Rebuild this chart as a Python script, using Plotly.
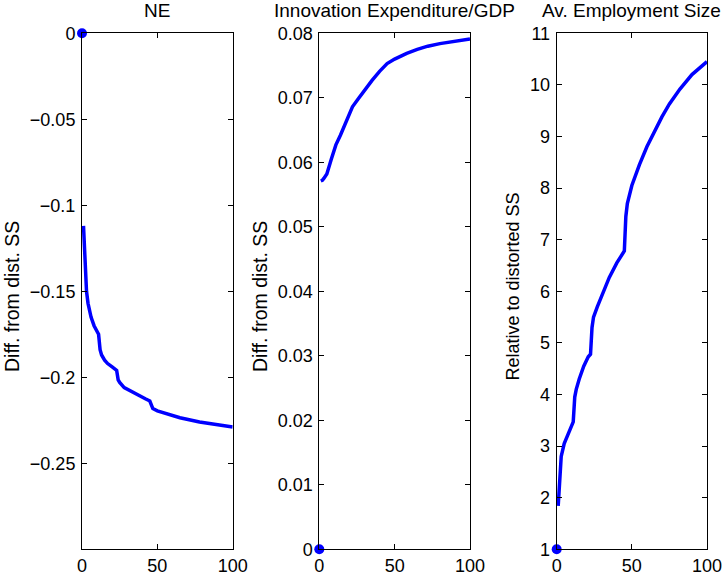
import plotly.graph_objects as go

# ---- data -------------------------------------------------------------
# NE: difference from distorted steady state
ne_t = [1, 2, 3, 4, 6, 8, 10, 11, 12, 13, 15, 17, 20, 23, 24, 25, 28, 33, 38,
        42, 45, 46, 47, 50, 56, 65, 78, 90, 100]
ne_v = [-0.112, -0.138, -0.150, -0.157, -0.165, -0.170, -0.1735, -0.175, -0.184,
        -0.187, -0.190, -0.192, -0.194, -0.196, -0.2015, -0.203, -0.206, -0.2085,
        -0.2107, -0.2125, -0.2138, -0.2165, -0.2182, -0.2195, -0.2213, -0.2235,
        -0.226, -0.2277, -0.2289]

# Innovation expenditure / GDP: difference from distorted steady state
ie_t = [1, 2, 3, 5, 8, 11, 14, 18, 22, 26, 30, 35, 40, 45, 50, 58, 65, 72, 80,
        90, 100]
ie_v = [0.0571, 0.0572, 0.0575, 0.0582, 0.0605, 0.0627, 0.0642, 0.0663, 0.0686,
        0.0699, 0.0712, 0.0727, 0.0741, 0.0753, 0.0760, 0.0769, 0.0775, 0.0780,
        0.0784, 0.0788, 0.0791]

# Average employment size relative to distorted steady state
es_t = [1, 2, 3, 5, 7, 9, 11, 12, 13, 15, 18, 21, 22.5, 23.5, 24.5, 27, 30, 35,
        40, 45, 46, 47, 50, 55, 60, 65, 70, 75, 82, 90, 100]
es_v = [1.84, 2.45, 2.80, 3.05, 3.20, 3.35, 3.47, 3.95, 4.10, 4.30, 4.55, 4.73,
        4.78, 5.30, 5.50, 5.70, 5.93, 6.27, 6.55, 6.78, 7.45, 7.70, 8.05, 8.45,
        8.80, 9.10, 9.38, 9.63, 9.92, 10.20, 10.45]

# initial (t = 0) values
start_t = [0, 0, 0]
start_v = [0, 0, 1]

titles = ["NE", "Innovation Expenditure/GDP", "Av. Employment Size"]
ylabels = ["Diff. from dist. SS", "Diff. from dist. SS", "Relative to distorted SS"]

x_ticks = [0, 50, 100]
ne_ticks = [-0.25, -0.2, -0.15, -0.1, -0.05, 0]
ne_ticktext = ["\u22120.25", "\u22120.2", "\u22120.15", "\u22120.1", "\u22120.05", "0"]
ie_ticks = [0, 0.01, 0.02, 0.03, 0.04, 0.05, 0.06, 0.07, 0.08]
ie_ticktext = ["0", "0.01", "0.02", "0.03", "0.04", "0.05", "0.06", "0.07", "0.08"]
es_ticks = list(range(1, 12))

# ---- figure -----------------------------------------------------------
W, H = 723, 576
BLUE = "#0000ff"
FONT = "Liberation Sans, Arial, Helvetica, sans-serif"

# panel boxes in pixels (left, right); shared top/bottom
px_x = [(82, 232.7), (319.3, 470), (556.7, 707)]
px_top, px_bot = 33.3, 549.3

fig = go.Figure()
series = [(ne_t, ne_v), (ie_t, ie_v), (es_t, es_v)]
for i, (t, v) in enumerate(series):
    ax = "" if i == 0 else str(i + 1)
    fig.add_trace(go.Scatter(x=t, y=v, mode="lines", xaxis="x" + ax, yaxis="y" + ax,
                             line=dict(color=BLUE, width=3.5), showlegend=False))
    fig.add_trace(go.Scatter(x=[start_t[i]], y=[start_v[i]], mode="markers",
                             xaxis="x" + ax, yaxis="y" + ax, cliponaxis=False,
                             marker=dict(color=BLUE, size=10), showlegend=False))

y_specs = [
    dict(range=[-0.3, 0], tickvals=ne_ticks, ticktext=ne_ticktext),
    dict(range=[0, 0.08], tickvals=ie_ticks, ticktext=ie_ticktext),
    dict(range=[1, 11], tickvals=es_ticks),
]

common = dict(showline=True, linecolor="black", linewidth=1, mirror="ticks",
              ticks="inside", ticklen=5, tickwidth=1, tickcolor="black",
              showgrid=False, zeroline=False, automargin=False,
              tickfont=dict(family=FONT, size=18, color="black"))

y_dom = [1 - px_bot / H, 1 - px_top / H]
layout = dict(width=W, height=H, margin=dict(l=0, r=0, t=0, b=0),
              plot_bgcolor="white", paper_bgcolor="white",
              font=dict(family=FONT, size=18, color="black"))
annotations = []
for i in range(3):
    ax = "" if i == 0 else str(i + 1)
    l, r = px_x[i]
    layout["xaxis" + ax] = dict(domain=[l / W, r / W], range=[0, 100],
                                tickvals=x_ticks, anchor="y" + ax, **common)
    layout["yaxis" + ax] = dict(domain=y_dom, anchor="x" + ax, ticklabelstandoff=2,
                                **y_specs[i], **common)
    cx = (l + r) / 2
    annotations.append(dict(text=titles[i], x=cx / W, y=1 - 11 / H, xref="paper",
                            yref="paper", showarrow=False, xanchor="center",
                            yanchor="middle",
                            font=dict(family=FONT, size=19, color="black")))
lab_x = [12, 260, 512.5]
lab_y = [297, 297, 287]
lab_size = [19.5, 19.5, 18]
for i in range(3):
    annotations.append(dict(text=ylabels[i], x=lab_x[i] / W, y=1 - lab_y[i] / H,
                            xref="paper", yref="paper", showarrow=False,
                            textangle=-90, xanchor="center", yanchor="middle",
                            font=dict(family=FONT, size=lab_size[i], color="black")))
layout["annotations"] = annotations
fig.update_layout(**layout)

# page without body margin so the figure fills the window exactly
fig.write_html("out.html",
               post_script="document.body.style.margin='0';"
                           "document.body.style.overflow='hidden';")
